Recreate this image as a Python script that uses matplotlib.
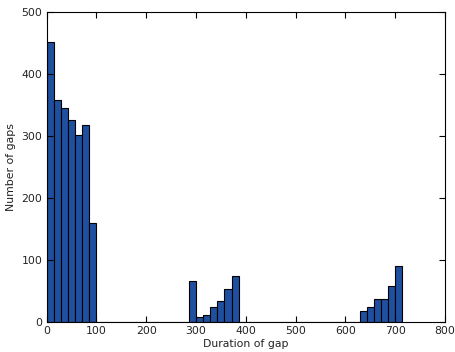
import numpy as np
import matplotlib
matplotlib.use("Agg")
import matplotlib.pyplot as plt

# Histogram of gap durations: 50 equal bins between 0 and 714
bin_start = 0.0
bin_stop = 714.0
n_bins = 50

counts = [
    452, 358, 346, 326, 302, 318, 160, 0, 0, 0,
    1, 0, 0, 0, 0, 0, 0, 0, 0, 1,
    66, 8, 12, 24, 35, 54, 74, 1, 0, 0,
    0, 0, 0, 0, 0, 0, 0, 0, 0, 0,
    0, 0, 0, 1, 19, 25, 37, 38, 58, 90,
]

x_ticks = [0, 100, 200, 300, 400, 500, 600, 700, 800]
y_ticks = [0, 100, 200, 300, 400, 500]

edges = np.linspace(bin_start, bin_stop, n_bins + 1)
width = edges[1] - edges[0]

fig = plt.figure(figsize=(4.55, 3.52), dpi=100)
ax = fig.add_axes([0.1026, 0.0844, 0.8754, 0.8806])

ax.bar(edges[:-1], counts, width=width, align="edge",
       color="#1f4f9f", edgecolor="black", linewidth=0.8)

ax.set_xlim(0, 800)
ax.set_ylim(0, 500)
ax.set_xticks(x_ticks)
ax.set_yticks(y_ticks)
ax.tick_params(direction="in", top=True, right=True, length=4,
               labelsize=7.8, pad=3, labelcolor="#222222")
ax.set_xlabel("Duration of gap", fontsize=7.8, labelpad=2, color="#222222")
ax.set_ylabel("Number of gaps", fontsize=7.8, labelpad=4, color="#222222")
for s in ax.spines.values():
    s.set_linewidth(0.8)

fig.savefig("out.png", dpi=100)
